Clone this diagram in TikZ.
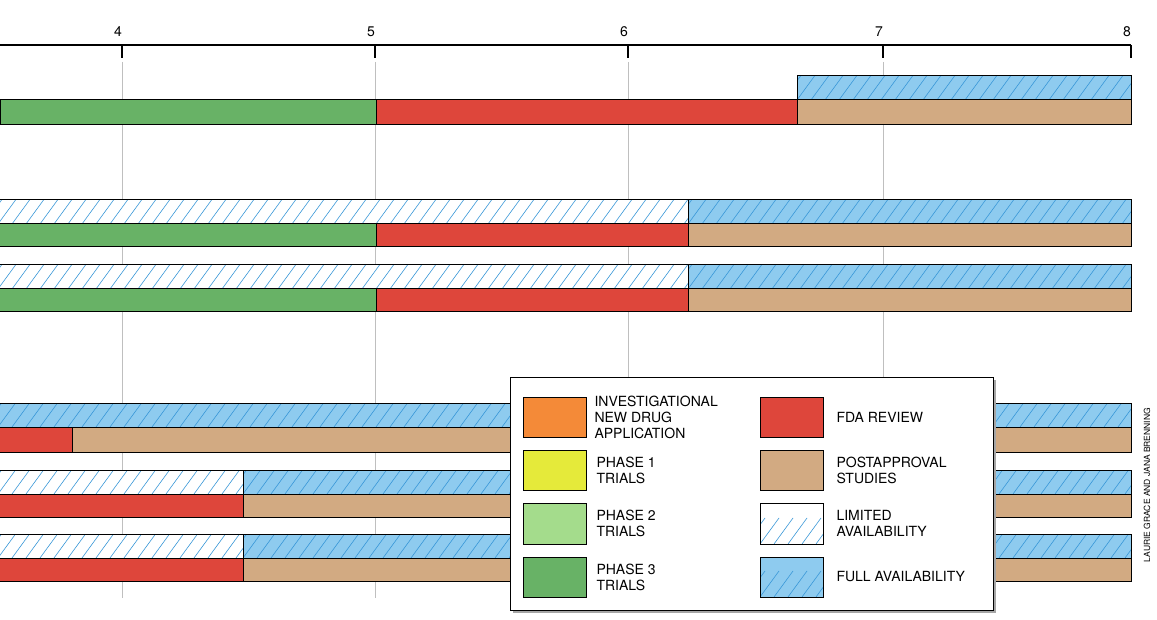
\documentclass[tikz,border=0pt]{standalone}
\usepackage{fontspec}
\setmainfont{TeX Gyre Heros}
\definecolor{grn}{HTML}{68B266}
\definecolor{rd}{HTML}{DE463B}
\definecolor{tan}{HTML}{D2AA82}
\definecolor{blu}{HTML}{8ECBEF}
\definecolor{hl}{HTML}{3A98D8}
\definecolor{org}{HTML}{F48A38}
\definecolor{yel}{HTML}{E5EA3A}
\definecolor{lgr}{HTML}{A4DC8C}
\begin{document}
\begin{tikzpicture}[x=1pt,y=-1pt,
 bar/.style={draw=black,line width=1pt},
 hatch/.style={bar,path picture={\foreach \i in {-3,...,85}{\draw[hl,line width=0.6pt]([xshift=\i*14pt]path picture bounding box.south west)--++(19,-26);}}},
 lab/.style={font=\fontsize{14}{16}\selectfont,align=left,anchor=west}]
\useasboundingbox (0,0) rectangle (1157,620);
% grid
\foreach \x in {122,375,628,883}{\draw[gray!50,line width=1pt](\x,62)--(\x,598);}
\draw[line width=2pt](0,45)--(1131,45);
\foreach \x/\l in {122/4,375/5,628/6,883/7,1131/8}{\draw[line width=1.2pt](\x,45)--(\x,58);\node[font=\fontsize{14}{16}\selectfont] (t\l) at (\x-4,32){\l};}
% row1
\draw[hatch,fill=blu](797,76) rectangle (1131,100);
\draw[bar,fill=grn](0,100) rectangle (376,125);
\draw[bar,fill=rd](376,100) rectangle (797,125);
\draw[bar,fill=tan](797,100) rectangle (1131,125);
% rows 2,3
\foreach \y in {200,265}{
\draw[hatch,fill=white](-2,\y) rectangle (688,\y+24);
\draw[hatch,fill=blu](688,\y) rectangle (1131,\y+24);
\draw[bar,fill=grn](-2,\y+24) rectangle (376,\y+47);
\draw[bar,fill=rd](376,\y+24) rectangle (688,\y+47);
\draw[bar,fill=tan](688,\y+24) rectangle (1131,\y+47);}
% row4
\draw[hatch,fill=blu](-2,403) rectangle (1131,427);
\draw[bar,fill=rd](-2,427) rectangle (72,452);
\draw[bar,fill=tan](72,427) rectangle (1131,452);
% rows 5,6
\foreach \y in {470,534}{
\draw[hatch,fill=white](-2,\y) rectangle (243,\y+24);
\draw[hatch,fill=blu](243,\y) rectangle (1131,\y+24);
\draw[bar,fill=rd](-2,\y+24) rectangle (243,\y+47);
\draw[bar,fill=tan](243,\y+24) rectangle (1131,\y+47);}
% legend
\fill[gray!70](513,380) rectangle (996,613);
\draw[fill=white,line width=1pt](510,377) rectangle (993,610);
\draw[bar,fill=org](523,397) rectangle (586,437);
\draw[bar,fill=yel](523,450) rectangle (586,490);
\draw[bar,fill=lgr](523,503) rectangle (586,544);
\draw[bar,fill=grn](523,557) rectangle (586,597);
\draw[bar,fill=rd](760,397) rectangle (823,437);
\draw[bar,fill=tan](760,450) rectangle (823,490);
\draw[hatch,fill=white](760,503) rectangle (823,544);
\draw[hatch,fill=blu](760,557) rectangle (823,597);
\node[lab] (l1) at (591,417){INVESTIGATIONAL\\NEW DRUG\\APPLICATION};
\node[lab] (l2) at (593,470){PHASE 1\\TRIALS};
\node[lab] (l3) at (593,523){PHASE 2\\TRIALS};
\node[lab] (l4) at (593,577){PHASE 3\\TRIALS};
\node[lab] (r1) at (833,417){FDA REVIEW};
\node[lab] (r2) at (833,470){POSTAPPROVAL\\STUDIES};
\node[lab] (r3) at (833,523){LIMITED\\AVAILABILITY};
\node[lab] (r4) at (833,577){FULL AVAILABILITY};
\node[rotate=90,font=\fontsize{8.5}{10}\selectfont] (cr) at (1147,485){LAURIE GRACE AND JANA BRENNING};
\end{tikzpicture}
\end{document}
